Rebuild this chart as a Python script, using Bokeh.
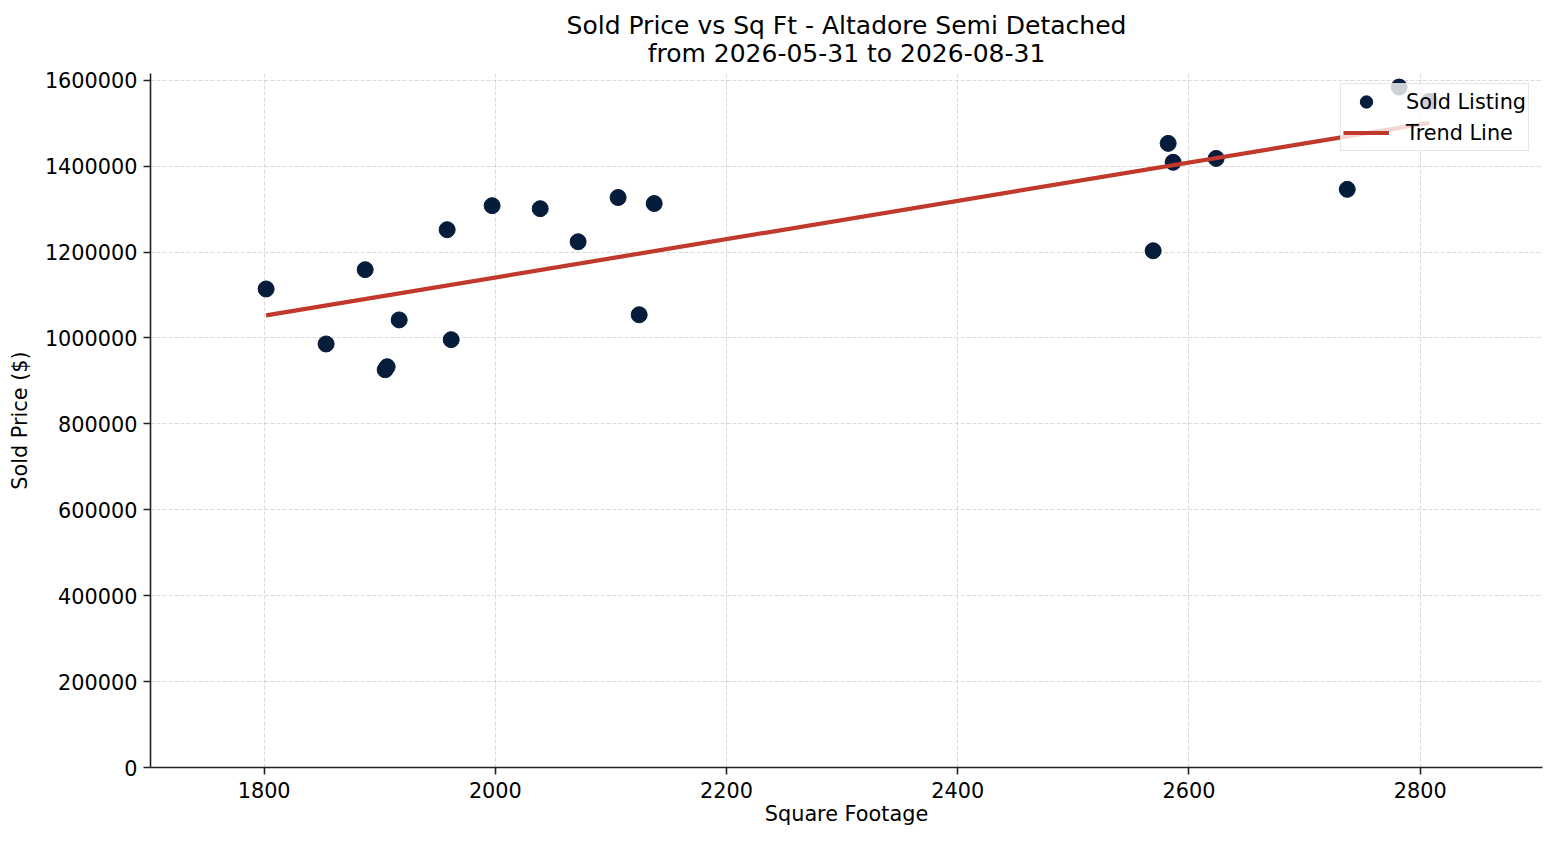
import numpy as np
from bokeh.plotting import figure
from bokeh.models import (ColumnDataSource, SingleIntervalTicker, BasicTickFormatter, Range1d,
                          Legend, LegendItem, Title)
from bokeh.embed import file_html
from bokeh.resources import INLINE

# Data
sqft = [1801.7, 1853.6, 1887.4, 1916.8, 1904.7, 1906.4, 1958.3, 1961.8, 1997.2, 2038.8,
        2071.6, 2106.2, 2124.4, 2137.4, 2569.0, 2582.0, 2586.3, 2623.5, 2736.9, 2781.8, 2807.8]
price = [1114000, 986000, 1159000, 1042000, 926000, 933000, 1252000, 996000, 1308000, 1301000,
         1224000, 1327000, 1054000, 1313000, 1203000, 1453000, 1409000, 1418000, 1346000, 1584000, 1551000]

title_lines = ["Sold Price vs Sq Ft - Altadore Semi Detached", "from 2026-05-31 to 2026-08-31"]
x_label = "Square Footage"
y_label = "Sold Price ($)"
series_names = ["Sold Listing", "Trend Line"]

FONT = "DejaVu Sans"
TICK = "20.8px"

xs = np.array(sqft, dtype=float)
ys = np.array(price, dtype=float)
slope, intercept = np.polyfit(xs, ys, 1)
tx = np.array([xs.min(), xs.max()])
ty = slope * tx + intercept

p = figure(width=1544, height=829, output_backend="svg", toolbar_location=None,
           x_range=Range1d(xs.min() - 100, xs.max() + 98),
           y_range=Range1d(0, ys.max() * 1.02),
           min_border_left=150, min_border_right=2, min_border_top=73, min_border_bottom=62)

# two-line centered title (second line added first = closest to plot)
title_standoffs = [12, -18]
for txt, so in zip(reversed(title_lines), title_standoffs):
    t = Title(text=txt, align="center", text_font=FONT, text_font_size="25px",
              text_font_style="normal", text_color="black", standoff=so, offset=0)
    p.add_layout(t, "above")

p.outline_line_color = None
p.background_fill_color = "white"
p.border_fill_color = "white"

for ax in (p.xaxis, p.yaxis):
    ax.axis_line_color = "#222222"
    ax.axis_line_width = 1.6
    ax.major_tick_line_color = "#222222"
    ax.major_tick_line_width = 1.6
    ax.major_tick_out = 7
    ax.major_tick_in = 0
    ax.minor_tick_line_color = None
    ax.major_label_text_font = FONT
    ax.major_label_text_font_size = TICK
    ax.major_label_text_color = "black"
    ax.axis_label_text_font = FONT
    ax.axis_label_text_font_size = TICK
    ax.axis_label_text_font_style = "normal"
    ax.axis_label_text_color = "black"

p.xaxis.axis_label = x_label
p.yaxis.axis_label = y_label
p.xaxis.ticker = SingleIntervalTicker(interval=200)
p.yaxis.ticker = SingleIntervalTicker(interval=200000)
p.yaxis.formatter = BasicTickFormatter(use_scientific=False)
p.xaxis.major_label_standoff = 7
p.xaxis.axis_label_standoff = 1
p.yaxis.major_label_standoff = 6
p.yaxis.axis_label_standoff = 10

p.grid.grid_line_color = "#b0b0b0"
p.grid.grid_line_alpha = 0.6
p.grid.grid_line_dash = "4 2"
p.grid.grid_line_width = 0.8

src = ColumnDataSource(dict(x=xs, y=ys))
r_sc = p.scatter("x", "y", source=src, size=16, fill_color="#061c3b", line_color="#061c3b")
r_ln = p.line(tx, ty, line_color="#c0392b", line_width=4.2)

legend = Legend(items=[LegendItem(label=series_names[0], renderers=[r_sc]),
                       LegendItem(label=series_names[1], renderers=[r_ln])],
                location=(1190, 616))
legend.label_text_font = FONT
legend.label_text_font_size = TICK
legend.label_text_color = "black"
legend.border_line_color = "#cccccc"
legend.border_line_width = 1.5
legend.background_fill_alpha = 0.8
legend.glyph_width = 46
legend.glyph_height = 31
legend.spacing = 0
legend.padding = 2
legend.margin = 0
legend.label_standoff = 17
p.add_layout(legend)

open("out.html", "w").write(file_html(p, INLINE))
